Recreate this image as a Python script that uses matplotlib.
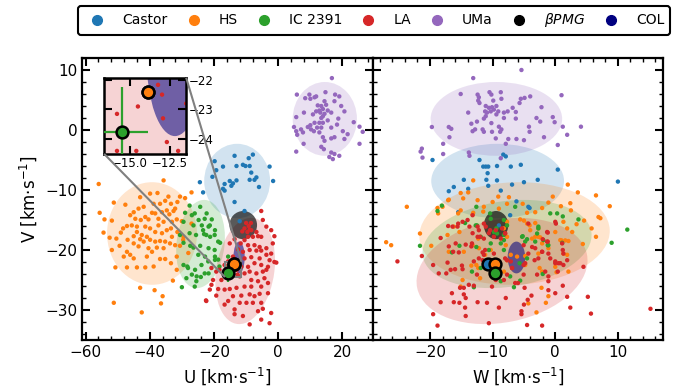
import numpy as np
import matplotlib
matplotlib.use('Agg')
import matplotlib.pyplot as plt
from matplotlib.patches import Ellipse
from matplotlib.lines import Line2D
from matplotlib.ticker import AutoMinorLocator
from mpl_toolkits.axes_grid1.inset_locator import mark_inset

# ---------------- data (km/s) ----------------
groups = ['Castor', 'HS', 'IC 2391', 'LA', 'UMa']
colors = ['#1f77b4', '#ff7f0e', '#2ca02c', '#d62728', '#9467bd']

castor_uv = [(-13.6,-4.3),(-7.9,-4.1),(-9.2,-4.7),(-19.3,-6.7),(-17.2,-6.1),(-13.0,-6.0),(-11.0,-5.8),
             (-10.2,-6.0),(-8.9,-6.0),(-2.7,-6.1),(-8.4,-7.1),(-6.8,-7.9),(-24.4,-8.7),(-16.7,-9.0),
             (-15.1,-8.5),(-14.1,-8.9),(-13.0,-8.4),(-8.9,-8.3),(-7.4,-8.3),(-1.6,-8.5),(-17.2,-9.8),
             (-16.7,-10.1),(-14.6,-9.3),(-23.4,-10.4),(-13.6,-12.0),(-12.0,-15.2),(-20.5,-7.8),
             (-19.8,-5.2),(-10.5,-13.5),(-6.0,-9.5)]
castor_wv = [(-19.6,-5.0),(-16.2,-9.5),(-17.0,-10.2),(-14.6,-8.3),(-13.9,-9.8),(-12.1,-5.0),(-11.5,-6.1),
             (-11.1,-6.1),(-10.7,-6.1),(-10.8,-7.2),(-11.0,-8.3),(-10.7,-9.3),(-9.3,-8.4),(-9.3,-6.0),
             (-8.3,-4.1),(-7.9,-4.4),(-8.7,-10.1),(-7.1,-6.1),(-6.9,-9.1),(-5.5,-5.8),(-5.0,-8.7),
             (-2.8,-8.3),(0.4,-6.6),(10.0,-8.6),(-15.5,-13.7),(-4.1,-13.0),(-6.2,-11.9),(-7.2,-14.2),
             (-9.0,-15.9),(-4.3,-12.8)]

hs_uv = [(-55.9,-9.0),(-35.7,-8.4),(-51.2,-12.1),(-47.6,-12.45),(-55.6,-13.8),(-54.1,-14.9),(-37.6,-10.5),
         (-34.2,-11.1),(-35.2,-11.8),(-36.8,-12.3),(-38.8,-12.3),(-33.4,-12.3),(-31.4,-12.0),(-30.6,-11.1),
         (-29.0,-11.35),(-32.1,-13.1),(-32.6,-13.5),(-34.7,-13.4),(-33.9,-14.05),(-36.2,-13.7),(-38.3,-13.9),
         (-39.3,-13.8),(-41.9,-12.8),(-43.5,-13.1),(-45.0,-13.7),(-46.1,-14.2),(-41.4,-14.5),(-40.4,-14.9),
         (-42.8,-15.0),(-37.3,-14.8),(-35.7,-15.3),(-33.1,-15.3),(-31.6,-14.9),(-30.0,-15.2),(-33.4,-16.4),
         (-31.4,-17.0),(-34.7,-16.7),(-36.2,-17.2),(-38.3,-17.0),(-39.9,-16.4),(-41.4,-16.1),(-44.0,-16.1),
         (-45.6,-15.9),(-47.1,-16.0),(-44.0,-17.0),(-42.5,-17.5),(-40.9,-17.8),(-43.0,-18.2),(-41.9,-18.6),
         (-39.9,-18.3),(-38.3,-18.6),(-36.8,-18.5),(-35.2,-18.6),(-33.7,-18.9),(-32.1,-19.2),(-45.0,-18.9),
         (-43.5,-19.4),(-47.1,-20.3),(-46.1,-20.8),(-45.0,-21.4),(-48.1,-21.1),(-36.8,-21.5),(-35.2,-21.5),
         (-39.3,-20.3),(-40.9,-21.1),(-33.4,-22.2),(-31.6,-23.3),(-38.8,-22.75),(-41.4,-22.9),(-44.0,-22.9),
         (-47.1,-22.9),(-50.7,-22.9),(-52.5,-17.95),(-50.4,-18.1),(-49.0,-17.1),(-54.4,-17.1),(-51.8,-15.1),
         (-35.7,-19.7),(-37.8,-19.6),(-44.5,-14.8),(-49.4,-19.3),(-43.0,-26.3),(-38.5,-26.7),(-36.0,-27.7),
         (-36.5,-28.9),(-32.8,-25.1),(-51.2,-28.8),(-42.5,-30.4),(-30.6,-19.3),(-29.5,-17.8),(-31.6,-21.1),
         (-39.9,-10.6),(-43.0,-11.2),(-48.3,-16.4),(-46.9,-18.3),(-33.1,-17.8),(-40.4,-19.7),(-51.8,-20.0),
         (-45.0,-17.7),(-37.3,-15.9),(-27.0,-15.6),(-29.6,-18.3),(-28.0,-20.5),(-27.0,-10.4)]
hs_wv = [(-13.1,-8.4),(-15.1,-10.5),(-13.9,-10.4),(-17.0,-11.6),(-14.7,-11.4),(-9.1,-11.1),(-0.4,-11.1),
         (2.0,-9.1),(3.6,-10.4),(6.5,-10.9),(-23.7,-12.8),(-27.0,-18.7),(-26.2,-19.2),(-21.6,-17.25),
         (-19.8,-19.3),(-18.8,-13.0),(-18.0,-12.8),(-18.7,-13.9),(-17.1,-11.7),(-15.1,-13.4),(-15.5,-13.9),
         (-13.2,-14.1),(-11.5,-13.6),(-12.4,-11.7),(-10.0,-12.0),(-7.7,-12.3),(-7.4,-11.2),(-9.0,-13.1),
         (-16.2,-16.1),(-15.3,-17.0),(-17.2,-17.5),(-17.0,-20.3),(-14.6,-20.3),(-13.2,-19.2),(-12.3,-18.1),
         (-11.2,-20.8),(-10.3,-20.0),(-13.4,-22.6),(-12.3,-23.0),(-12.2,-19.7),(-7.9,-19.2),(-7.1,-20.8),
         (-7.7,-21.7),(-8.2,-16.4),(-7.7,-15.3),(-14.8,-25.0),(-15.1,-26.1),(8.7,-12.7),(-1.1,-12.1),
         (-2.1,-13.0),(-3.2,-13.7),(-4.5,-13.8),(0.9,-12.7),(2.4,-12.2),(2.5,-13.4),(1.3,-15.3),(3.4,-15.7),
         (4.6,-15.1),(5.8,-16.4),(6.9,-14.5),(7.2,-14.7),(6.5,-17.8),(4.4,-19.0),(2.1,-18.5),(1.6,-18.4),
         (2.7,-17.0),(1.0,-18.4),(1.3,-20.6),(-1.1,-19.7),(-2.4,-17.9),(-2.1,-18.9),(-3.2,-17.8),(-2.7,-17.8),
         (-4.0,-16.7),(-5.0,-15.1),(-5.6,-14.9),(-4.1,-15.9),(-2.7,-16.4),(1.9,-16.4),(0.2,-23.7),(-2.5,-23.0),
         (-2.2,-26.3),(-1.1,-27.7),(-1.5,-28.8),(-3.0,-30.4),(-4.3,-28.9),(1.9,-20.8),(-4.8,-21.0),
         (-13.1,-13.8),(-11.4,-12.8),(-5.2,-12.3),(-4.5,-15.6),(-3.2,-15.5),(0.0,-17.0),(0.8,-18.35),
         (-3.7,-18.1),(-2.1,-23.6),(-2.7,-20.6),(-8.2,-23.6),(-12.6,-22.5),(-12.0,-24.7),(-9.8,-23.75),
         (0.0,-22.8),(2.1,-23.6),(-4.8,-22.5),(-7.7,-17.8),(-6.1,-21.1)]

ic_uv = [(-27.6,-12.6),(-24.3,-12.8),(-29.0,-13.8),(-22.3,-13.9),(-26.9,-14.2),(-24.8,-15.0),(-20.7,-14.9),
         (-29.5,-15.3),(-26.4,-15.9),(-23.8,-15.9),(-21.7,-16.1),(-19.7,-16.7),(-30.6,-17.5),(-27.6,-17.2),
         (-25.6,-17.5),(-23.1,-17.35),(-21.2,-17.8),(-18.1,-18.8),(-29.5,-18.8),(-27.4,-19.3),(-26.4,-19.6),
         (-24.3,-19.3),(-21.7,-19.7),(-24.9,-20.8),(-22.8,-21.1),(-19.7,-21.1),(-29.5,-22.5),(-28.3,-22.75),
         (-25.9,-23.3),(-25.4,-24.4),(-24.1,-24.5),(-26.9,-24.1),(-21.7,-23.9),(-18.3,-22.75),(-30.0,-26.2),
         (-19.7,-21.65),(-26.0,-13.9),(-22.9,-14.8),(-21.3,-15.9),(-23.4,-16.7),(-22.4,-17.5),(-19.8,-17.5),
         (-18.7,-18.6),(-19.8,-20.0),(-21.8,-21.9),(-23.9,-22.5),(-22.9,-23.9),(-28.1,-23.0),(-28.6,-24.7),
         (-18.7,-21.6),(-15.6,-21.1),(-25.5,-25.2),(-26.0,-26.1)]
ic_wv = [(-18.1,-12.6),(-18.8,-13.5),(-12.6,-12.8),(-14.4,-15.5),(-21.6,-19.3),(-15.3,-19.3),(-16.5,-20.4),
         (-12.7,-15.9),(-10.3,-14.8),(-9.8,-17.0),(-9.4,-16.4),(-8.2,-17.5),(-8.7,-18.9),(-8.2,-18.35),
         (-10.3,-18.9),(-11.9,-23.0),(-13.0,-26.2),(-8.7,-25.2),(-6.6,-26.2),(-10.0,-21.7),(-11.9,-17.8),
         (-0.8,-13.9),(0.3,-13.9),(1.2,-14.4),(3.7,-14.9),(-2.7,-16.4),(1.1,-18.8),(-3.2,-18.6),(-4.5,-18.2),
         (-5.2,-17.7),(-2.0,-24.0),(-5.6,-25.1),(11.5,-16.6),(9.0,-18.8),(-1.2,-19.2),(-10.4,-13.9),
         (-6.4,-12.8),(-12.5,-15.9),(-8.2,-15.0),(-7.7,-15.9),(-9.3,-17.25),(-5.3,-17.8),(-4.8,-18.6),
         (-2.7,-16.1),(-2.9,-17.25),(-1.9,-18.35),(-1.1,-19.2),(-12.6,-19.5),(-10.6,-20.0),(-8.2,-20.0),
         (-4.5,-21.4),(-13.3,-23.6),(-7.2,-24.4),(-5.7,-22.2)]

la_uv = [(-5.3,-13.5),(-3.7,-16.1),(-10.5,-16.4),(-8.9,-16.6),(-9.6,-17.0),(-8.4,-16.7),(-6.8,-17.0),
         (-6.3,-17.7),(-5.3,-17.8),(-9.4,-17.8),(-7.9,-17.8),(-10.5,-18.35),(-13.6,-18.2),(-15.1,-18.9),
         (-11.7,-18.9),(-7.4,-19.2),(-5.8,-19.5),(-3.7,-19.7),(-12.5,-19.9),(-11.0,-20.3),(-8.9,-20.0),
         (-6.8,-20.1),(-5.3,-20.1),(-2.2,-20.6),(-0.6,-22.1),(-3.7,-20.8),(-5.8,-21.4),(-8.4,-21.2),
         (-10.5,-21.4),(-14.1,-21.1),(-15.6,-21.9),(-16.7,-22.5),(-19.3,-23.6),(-20.8,-23.0),(-13.0,-22.5),
         (-11.5,-22.8),(-9.4,-22.8),(-7.4,-22.2),(-5.3,-22.5),(-3.2,-22.8),(-4.8,-23.6),(-6.8,-23.9),
         (-8.9,-23.6),(-10.5,-23.9),(-12.0,-24.4),(-14.6,-24.4),(-17.7,-25.0),(-20.3,-25.0),(-8.4,-25.0),
         (-6.3,-25.2),(-4.3,-24.7),(-3.2,-25.5),(-5.3,-26.1),(-8.4,-26.1),(-10.5,-26.1),(-13.0,-26.3),
         (-15.1,-26.5),(-16.7,-26.6),(-18.7,-26.5),(-21.3,-26.6),(-8.9,-27.4),(-7.4,-27.7),(-5.8,-27.3),
         (-3.2,-27.2),(-11.5,-27.6),(-14.1,-27.7),(-12.0,-28.8),(-9.9,-28.8),(-7.9,-28.8),(-5.3,-28.8),
         (-15.6,-28.5),(-22.4,-28.5),(-13.6,-29.9),(-6.3,-30.2),(-4.8,-29.8),(-2.2,-30.5),(-11.0,-31.0),
         (-5.3,-31.6),(-2.7,-32.2),(-8.9,-32.4),(-13.6,-30.7),(-16.7,-29.1),(-20.8,-25.8),(-2.2,-16.7),
         (-1.2,-17.7),(-1.7,-18.9),(-2.7,-21.7),(-3.7,-23.3),(-9.4,-19.2),(-13.25,-22.17),(-14.5,-22.9),
         (-15.8,-23.15),(-12.94,-23.3),(-12.7,-24.1),(-15.8,-24.4),(-1.2,-22.0),(-4.8,-15.0),
         (-19.3,-27.6),(-22.5,-28.4),(-18.3,-23.3),(-10.0,-15.5),(-8.5,-15.5),(-9.2,-16.0),(-11.2,-16.9)]
la_wv = [(-25.2,-21.9),(-21.3,-21.0),(-19.5,-22.5),(-18.3,-18.0),(-17.1,-16.0),(-16.4,-16.1),(-15.6,-16.1),
         (-15.5,-15.6),(-14.8,-15.3),(-13.7,-16.1),(-13.2,-17.2),(-12.2,-16.7),(-11.1,-16.1),(-14.3,-19.1),
         (-13.4,-19.4),(-16.3,-20.3),(-15.4,-20.4),(-11.6,-20.4),(-12.4,-17.8),(-17.2,-22.1),(-16.7,-23.3),
         (-14.8,-23.2),(-16.0,-23.2),(-14.9,-22.6),(-18.6,-23.9),(-17.4,-23.9),(-15.2,-26.3),(-14.6,-26.3),
         (-13.8,-25.8),(-13.0,-25.95),(-16.5,-27.2),(-14.6,-27.4),(-14.3,-28.0),(-16.2,-28.7),(-15.3,-28.8),
         (-18.3,-28.7),(-14.4,-29.6),(-12.4,-28.7),(-10.9,-28.8),(-9.0,-29.6),(-19.5,-30.7),(-18.8,-32.6),
         (-10.6,-32.2),(-14.3,-31.0),(-11.6,-21.7),(-10.9,-21.9),(-10.1,-22.5),(-7.7,-21.7),(-7.1,-21.9),
         (-6.9,-23.0),(-7.7,-24.1),(-8.2,-25.0),(-9.0,-23.6),(-9.5,-25.0),(-10.1,-26.1),(-7.9,-28.0),
         (-17.0,-19.4),(-15.9,-18.9),(-13.2,-14.2),(-14.0,-15.0),(-11.4,-18.1),(-10.6,-17.2),(-9.5,-16.7),
         (-8.7,-18.1),(-8.0,-17.2),(-1.2,-17.1),(0.1,-15.6),(-1.2,-18.6),(-1.1,-20.6),(-2.1,-20.3),
         (-3.2,-19.7),(-4.3,-20.6),(-2.7,-21.4),(0.0,-22.2),(0.5,-22.2),(1.3,-22.5),(4.5,-22.8),(1.2,-20.0),
         (1.2,-25.95),(-1.1,-25.2),(-1.1,-26.7),(0.0,-27.2),(1.9,-27.8),(5.2,-27.8),(2.4,-29.6),(5.7,-30.6),
         (15.2,-29.8),(-2.1,-32.6),(-4.5,-32.5),(-3.8,-27.6),(-4.4,-28.3),(-5.0,-29.1),(-5.4,-30.2),
         (-5.4,-30.7),(-4.9,-26.3),(-6.4,-25.5),(-5.95,-25.5),(-2.9,-24.1),(-3.3,-21.7),(-4.8,-22.2),
         (-1.3,-18.6),(-2.0,-18.2),(-12.4,-16.1),(-11.4,-15.6),(-10.4,-16.7),(-8.5,-16.4),(-8.0,-17.25),
         (-9.8,-17.8),(-12.0,-17.8),(-13.3,-18.9),(-11.2,-20.0),(-12.2,-21.4),(-9.8,-20.6),(-5.05,-19.2),
         (-3.7,-19.5),(-1.3,-17.0),(-2.1,-20.3),(-0.8,-21.4),(0.0,-21.9),(0.8,-22.2),(1.3,-20.6),
         (-1.6,-23.6),(0.4,-23.6),(-5.05,-22.5),(-6.9,-23.0),(-8.0,-21.4),(-11.4,-20.8),(-13.0,-21.9),
         (-12.5,-24.1),(-9.0,-24.4),(-5.05,-24.1),(-1.1,-24.4),(-4.3,-15.6),(0.0,-15.3),(1.1,-18.9),(1.9,-21.7)]

uma_U = [16.7,5.8,8.4,9.7,11.3,10.0,11.8,14.7,17.7,19.0,17.5,14.4,12.3,13.4,14.9,13.9,12.8,11.8,13.1,14.4,
         15.4,16.5,13.9,13.4,19.6,20.6,8.0,10.8,5.6,18.7,18.3,20.1,21.6,23.5,25.3,26.3,25.3,12.8,13.9,11.3,
         10.0,9.2,10.2,11.1,4.9,5.6,7.1,7.7,5.9,12.8,13.9,14.4,13.4,14.2,16.5,17.5,7.9,5.6,16.5,17.5,
         15.9,17.0,19.0,20.6,15.4,12.1,16.5,13.4]
uma_V = [8.65,5.9,5.3,5.9,5.45,5.2,5.6,6.3,5.9,5.6,4.8,4.8,4.1,4.0,4.2,3.5,3.25,3.1,2.9,2.7,
         3.25,2.9,2.3,2.0,4.0,3.1,2.9,2.6,2.15,1.9,0.9,-0.2,-0.7,1.3,0.55,-0.3,-2.3,1.2,1.2,1.2,
         0.8,0.5,0.1,-0.2,0.5,-0.2,0.1,-0.4,-0.8,-0.4,-1.2,-1.8,-2.8,-3.2,-1.4,-1.2,-2.3,-3.6,-3.75,-4.0,
         -4.5,-4.85,-4.3,-1.5,1.6,0.4,0.4,0.4]
uma_W = [-5.4,-13.1,-15.1,-12.4,-12.2,-12.3,-12.1,-10.5,-10.2,-8.7,-8.6,-9.9,-5.5,-4.9,-4.0,-5.7,1.0,-2.2,-11.1,-10.6,
         -10.1,-9.4,-11.2,-10.9,-10.3,-9.8,-9.1,-8.2,-7.6,-6.8,-6.3,-13.9,-11.1,-9.4,-8.2,-6.3,-3.0,-2.4,-0.4,-0.1,
         -11.4,-12.5,-13.4,-13.2,-12.8,-11.6,-11.4,-10.2,-9.0,-8.6,-10.1,-8.8,-19.7,-17.0,-16.6,-4.2,-4.1,1.2,4.1,1.9,
         -1.8,-16.9,-7.5,-6.2,-5.0,-9.5,-7.9,-17.9,-21.3,-21.5,-21.2,-17.9,-13.8,-13.7,-8.7,0.4]
uma_Vw = [10.0,8.65,6.0,5.9,5.45,4.9,4.5,6.3,5.9,6.3,5.2,4.9,5.2,5.35,5.6,4.5,5.8,3.8,4.0,3.7,
          3.8,4.0,3.1,2.9,3.1,3.4,3.1,2.9,3.1,3.7,3.0,2.9,2.3,2.6,2.0,1.9,2.0,1.4,2.15,1.3,
          1.9,1.4,1.05,-0.2,0.1,0.1,-0.3,1.15,0.55,0.1,-0.3,-0.3,0.5,0.5,0.2,0.55,-0.3,0.55,0.55,-0.8,
          -1.2,-1.2,-1.5,-1.5,-1.7,-1.4,-2.3,-2.3,-3.1,-3.6,-4.6,-4.0,-3.75,-4.3,-4.7,-2.5]

# group ellipses: centre and half-extents (U, W, V) plus correlations
ell_names = ['Castor', 'HS', 'IC 2391', 'LA', 'UMa', 'βPMG', 'COL']
ell_colors = ['#1f77b4', '#ff7f0e', '#2ca02c', '#d62728', '#9467bd', 'black', 'navy']
ell_alpha = [0.2, 0.2, 0.2, 0.2, 0.2, 0.65, 0.55]
ell_U = [-12.8, -39.3, -24.2, -10.3, 14.5, -10.9, -12.2]
ell_W = [-9.2, -6.5, -7.7, -8.5, -9.4, -9.45, -6.2]
ell_V = [-8.5, -17.25, -19.0, -23.5, 1.85, -15.85, -21.25]
ell_sU = [10.25, 14.0, 7.6, 9.3, 10.0, 4.3, 1.76]
ell_sW = [10.6, 15.2, 13.5, 13.65, 10.5, 1.95, 1.4]
ell_sV = [6.2, 8.55, 7.35, 8.85, 6.15, 2.35, 2.65]
ell_rhoUV = [0.0, 0.0, 0.15, 0.2, 0.0, 0.0, 0.0]
ell_rhoWV = [0.0, 0.05, 0.2, 0.2, 0.0, 0.0, 0.0]

# highlighted targets
star_colors = ['#1f77b4', '#ff7f0e', '#2ca02c']
star_U = [-13.9, -13.9, -15.5]
star_W = [-10.8, -9.7, -9.6]
star_V = [-22.4, -22.4, -23.75]
star_errU = [0.0, 0.0, 1.6]
star_errV = [0.0, 0.0, 1.5]

# ---------------- plotting ----------------
plt.rcParams['font.family'] = ['DejaVu Sans']
fig = plt.figure(figsize=(6.74, 3.92), dpi=100)
axL = fig.add_axes([82/674, 52/392, 291/674, 282/392])
axR = fig.add_axes([373/674, 52/392, 290/674, 282/392])

uv_sets = [castor_uv, hs_uv, ic_uv, la_uv, list(zip(uma_U, uma_V))]
wv_sets = [castor_wv, hs_wv, ic_wv, la_wv, list(zip(uma_W, uma_Vw))]


def add_ellipse(ax, cx, cy, sx, sy, rho, color, alpha, z):
    cov = np.array([[sx**2, rho*sx*sy], [rho*sx*sy, sy**2]])
    vals, vecs = np.linalg.eigh(cov)
    ang = np.degrees(np.arctan2(vecs[1, 1], vecs[0, 1]))
    e = Ellipse((cx, cy), 2*np.sqrt(vals[1]), 2*np.sqrt(vals[0]), angle=ang,
                facecolor=color, edgecolor='none', alpha=alpha, zorder=z)
    ax.add_patch(e)


def draw_panel(ax, xs, sets, sx, rho, starx, errx):
    for i in range(len(ell_names)):
        add_ellipse(ax, xs[i], ell_V[i], sx[i], ell_sV[i], rho[i], ell_colors[i], ell_alpha[i],
                    0.5 if i < 5 else 0.6)
    for pts, c in zip(sets, colors):
        a = np.array(pts)
        ax.scatter(a[:, 0], a[:, 1], s=10, color=c, edgecolors='none', zorder=2)
    for i in range(3):
        if errx is not None and (errx[i] > 0 or star_errV[i] > 0):
            ax.errorbar(starx[i], star_V[i], xerr=errx[i], yerr=star_errV[i], fmt='none',
                        ecolor=star_colors[i], elinewidth=1.6, zorder=3.5)
        ax.plot(starx[i], star_V[i], 'o', ms=8.5, mfc=star_colors[i], mec='black', mew=1.8,
                zorder=4)


draw_panel(axL, ell_U, uv_sets, ell_sU, ell_rhoUV, star_U, star_errU)
draw_panel(axR, ell_W, wv_sets, ell_sW, ell_rhoWV, star_W, None)

for ax in (axL, axR):
    ax.set_ylim(-35, 12)
    ax.xaxis.set_minor_locator(AutoMinorLocator(5))
    ax.yaxis.set_minor_locator(AutoMinorLocator(5))
    ax.tick_params(which='both', direction='in', top=True, right=True)
    ax.tick_params(which='major', length=6, width=1.5, labelsize=11)
    ax.tick_params(which='minor', length=3, width=1.0)
    for s in ax.spines.values():
        s.set_linewidth(1.6)

axL.set_xlim(-61.1, 29.5)
axR.set_xlim(-29.1, 17.2)
axL.set_xticks([-60, -40, -20, 0, 20])
axR.set_xticks([-20, -10, 0, 10])
axL.set_yticks([10, 0, -10, -20, -30])
axR.set_yticks([10, 0, -10, -20, -30])
axR.tick_params(labelleft=False)
axL.set_xlabel('U [km·s$^{-1}$]', fontsize=12)
axR.set_xlabel('W [km·s$^{-1}$]', fontsize=12)
axL.set_ylabel('V [km·s$^{-1}$]', fontsize=12)

# inset
axins = axL.inset_axes([0.076, 0.66, 0.282, 0.27])
draw_panel(axins, ell_U, uv_sets, ell_sU, ell_rhoUV, star_U, star_errU)
axins.set_xlim(-16.6, -11.5)
axins.set_ylim(-24.5, -21.93)
axins.set_xticks([-15.0, -12.5])
axins.set_yticks([-22, -23, -24])
axins.tick_params(direction='in', top=True, right=True, left=True, labelleft=False,
                  labelright=True, length=6, width=1.5, labelsize=8.5, pad=2)
for s in axins.spines.values():
    s.set_linewidth(1.8)
pp, c1, c2 = mark_inset(axL, axins, loc1=1, loc2=3, fc='none', ec='0.5', lw=1.5)
for p in (pp, c1, c2):
    p.set_zorder(3)

# legend
handles = [Line2D([], [], marker='o', ls='', color=c, markersize=7) for c in colors]
handles.append(Line2D([], [], marker='o', ls='', color='black', markersize=7))
handles.append(Line2D([], [], marker='o', ls='', color='navy', markersize=7))
labels = groups + [r'$\beta PMG$', 'COL']
leg = fig.legend(handles, labels, loc='lower left', ncol=7, mode='expand',
                 bbox_to_anchor=(78/674, 1 - 35/392, 592/674, 25/392), borderaxespad=0,
                 fontsize=10, frameon=True, fancybox=True, edgecolor='black', framealpha=1,
                 handletextpad=0.8)
leg.get_frame().set_linewidth(1.5)

fig.savefig('out.png', dpi=100)
